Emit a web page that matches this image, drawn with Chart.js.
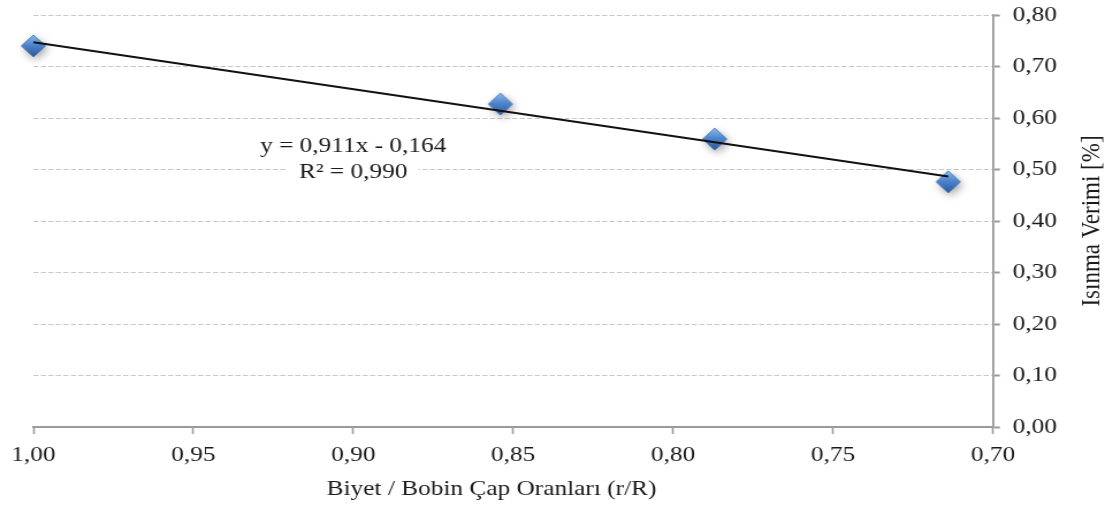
<!DOCTYPE html>
<html>
<head>
<meta charset="utf-8">
<script src="https://cdn.jsdelivr.net/npm/chart.js@4.4.0/dist/chart.umd.min.js"></script>
<style>
html,body{margin:0;padding:0;background:#fff;overflow:hidden}
canvas{display:block}
</style>
</head>
<body>
<canvas id="chart" width="960" height="506" style="width:1105px;height:506px"></canvas>
<script>
// measured points: billet / coil diameter ratio vs heating efficiency
const ratios = [1.000, 0.854, 0.787, 0.714];
const efficiency = [0.740, 0.627, 0.559, 0.476];

// linear fit as printed on the chart
const fitSlope = 0.911;
const fitIntercept = -0.164;
const fitR2 = 0.990;

const xTicks = [1.00, 0.95, 0.90, 0.85, 0.80, 0.75, 0.70];
const yTicks = [0.00, 0.10, 0.20, 0.30, 0.40, 0.50, 0.60, 0.70, 0.80];

const xTitle = "Biyet / Bobin Çap Oranları (r/R)";
const yTitle = "Isınma Verimi [%]";

const FONT = "'Liberation Serif', 'Times New Roman', serif";
const TEXT = "#1a1a1a";
const AXIS = "#9a9a9a";

const fmt = (v, d) => v.toFixed(d).replace(".", ",");

// fit line spans the measured range
const xMin = Math.min(...ratios), xMax = Math.max(...ratios);
const fitLine = [xMax, xMin].map(x => ({ x, y: fitSlope * x + fitIntercept }));

function makeDiamond(){
    const c = document.createElement("canvas");
    c.width = 46; c.height = 46;
    const g = c.getContext("2d");
    const cx = 23, cy = 23, rx = 10.5, ry = 11;
    g.shadowColor = "rgba(0,0,0,0.38)";
    g.shadowBlur = 8;
    g.shadowOffsetX = 2;
    g.shadowOffsetY = 3;
    const grad = g.createLinearGradient(0, cy - ry, 0, cy + ry);
    grad.addColorStop(0, "#8cb9ee");
    grad.addColorStop(0.45, "#4f86d0");
    grad.addColorStop(1, "#2a5896");
    g.beginPath();
    g.moveTo(cx, cy - ry);
    g.lineTo(cx + rx, cy);
    g.lineTo(cx, cy + ry);
    g.lineTo(cx - rx, cy);
    g.closePath();
    g.fillStyle = grad;
    g.fill();
    g.shadowColor = "transparent";
    g.strokeStyle = "#3b6cb0";
    g.lineWidth = 0.8;
    g.stroke();
    return c;
}

// equation box + axis titles
const labels = {
    id: "labels",
    beforeDatasetsDraw(chart){
        const {ctx, scales} = chart;
        const px = scales.x.getPixelForValue(0.90);
        const py = scales.y.getPixelForValue(0.52);
        const lines = [
            `y = ${fmt(fitSlope, 3)}x - ${fmt(-fitIntercept, 3)}`,
            `R² = ${fmt(fitR2, 3)}`
        ];
        ctx.save();
        ctx.font = `22px ${FONT}`;
        ctx.textAlign = "center";
        ctx.textBaseline = "middle";
        lines.forEach((t, i) => {
            const y = py - 13 + i * 26;
            const w = ctx.measureText(t).width;
            ctx.fillStyle = "#fff";
            ctx.fillRect(px - w / 2 - 10, y - 11, w + 20, 22);
            ctx.fillStyle = TEXT;
            ctx.fillText(t, px, y);
        });
        ctx.restore();
    },
    afterDraw(chart){
        const {ctx, chartArea} = chart;
        ctx.save();
        ctx.fillStyle = TEXT;
        ctx.textAlign = "center";
        ctx.textBaseline = "middle";
        ctx.font = `22px ${FONT}`;
        ctx.fillText(xTitle, 427, 489);
        ctx.translate(949, (chartArea.top + chartArea.bottom) / 2);
        ctx.rotate(-Math.PI / 2);
        ctx.font = `23px ${FONT}`;
        ctx.fillText(yTitle, 0, 0);
        ctx.restore();
    }
};

const ctx = document.getElementById("chart").getContext("2d");

const chart = new Chart(ctx, {
    type: "scatter",
    data: {
        datasets: [
            {
                label: "fit",
                data: fitLine,
                showLine: true,
                borderColor: "#111",
                borderWidth: 2,
                pointRadius: 0,
                clip: false,
                order: 0
            },
            {
                label: "Isınma Verimi",
                data: ratios.map((r, i) => ({ x: r, y: efficiency[i] })),
                pointStyle: makeDiamond(),
                pointRadius: 11,
                clip: false,
                order: 1
            }
        ]
    },
    options: {
        responsive: false,
        animation: false,
        layout: { padding: { left: 29, top: 15, right: 0, bottom: 0 } },
        plugins: {
            legend: { display: false },
            tooltip: { enabled: false }
        },
        scales: {
            x: {
                type: "linear",
                position: "bottom",
                min: 0.70,
                max: 1.00,
                reverse: true,
                afterBuildTicks: s => { s.ticks = xTicks.map(v => ({ value: v })); },
                afterFit: s => {
                    s.height = 79;
                    s.paddingLeft = 0;
                    s.paddingRight = 0;
                },
                border: { color: AXIS, width: 2 },
                grid: {
                    drawOnChartArea: false,
                    drawTicks: true,
                    tickLength: 7,
                    tickColor: AXIS,
                    tickWidth: 1.6
                },
                ticks: {
                    padding: 8,
                    autoSkip: false,
                    maxRotation: 0,
                    color: TEXT,
                    font: { family: FONT, size: 22 },
                    callback: v => fmt(v, 2)
                }
            },
            y: {
                position: "right",
                min: 0,
                max: 0.80,
                afterBuildTicks: s => { s.ticks = yTicks.map(v => ({ value: v })); },
                afterFit: s => {
                    s.width = 97.3;
                    s.paddingTop = 0;
                    s.paddingBottom = 0;
                },
                border: { color: AXIS, width: 1.8, dash: [4.5, 2] },
                grid: {
                    color: "#c8c8c8",
                    lineWidth: 1,
                    tickLength: 6,
                    tickColor: AXIS,
                    tickWidth: 2,
                    tickBorderDash: []
                },
                ticks: {
                    padding: 11,
                    color: TEXT,
                    font: { family: FONT, size: 22 },
                    callback: v => fmt(v, 2)
                }
            }
        }
    },
    plugins: [labels]
});
</script>
</body>
</html>
